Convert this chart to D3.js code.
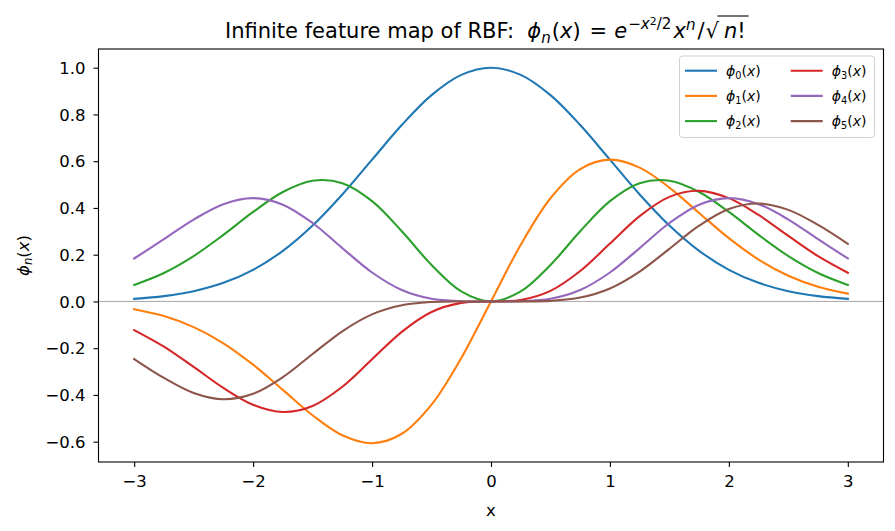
<!DOCTYPE html>
<html><head><meta charset="utf-8">
<script src="https://cdn.jsdelivr.net/npm/d3@7"></script>
<style>
body{margin:0;background:#fff;}
text{font-family:"DejaVu Sans",sans-serif;fill:#000;white-space:pre;}
</style></head>
<body>
<svg id="c" width="895" height="531"></svg>
<script>
const xs = [-3,-2.75,-2.5,-2.25,-2,-1.75,-1.5,-1.25,-1,-0.75,-0.5,-0.25,0,0.25,0.5,0.75,1,1.25,1.5,1.75,2,2.25,2.5,2.75,3];
const phi0 = [0.0111,0.0228,0.0439,0.0796,0.1353,0.2163,0.3247,0.4578,0.6065,0.7548,0.8825,0.9692,1.0000,0.9692,0.8825,0.7548,0.6065,0.4578,0.3247,0.2163,0.1353,0.0796,0.0439,0.0228,0.0111];
const phi1 = [-0.0333,-0.0627,-0.1098,-0.1790,-0.2707,-0.3785,-0.4870,-0.5723,-0.6065,-0.5661,-0.4413,-0.2423,0,0.2423,0.4413,0.5661,0.6065,0.5723,0.4870,0.3785,0.2707,0.1790,0.1098,0.0627,0.0333];
const phi2 = [0.0707,0.1219,0.1942,0.2848,0.3828,0.4683,0.5165,0.5058,0.4289,0.3002,0.1560,0.0428,0,0.0428,0.1560,0.3002,0.4289,0.5058,0.5165,0.4683,0.3828,0.2848,0.1942,0.1219,0.0707];
const phi3 = [-0.1225,-0.1935,-0.2803,-0.3700,-0.4420,-0.4732,-0.4473,-0.3651,-0.2476,-0.1300,-0.0450,-0.0062,0,0.0062,0.0450,0.1300,0.2476,0.3651,0.4473,0.4732,0.4420,0.3700,0.2803,0.1935,0.1225];
const phi4 = [0.1837,0.2661,0.3503,0.4162,0.4420,0.4140,0.3355,0.2282,0.1238,0.0488,0.0113,0.0008,0,0.0008,0.0113,0.0488,0.1238,0.2282,0.3355,0.4140,0.4420,0.4162,0.3503,0.2661,0.1837];
const phi5 = [-0.2465,-0.3272,-0.3917,-0.4188,-0.3953,-0.3240,-0.2251,-0.1276,-0.0554,-0.0164,-0.0025,-0.0001,0,0.0001,0.0025,0.0164,0.0554,0.1276,0.2251,0.3240,0.3953,0.4188,0.3917,0.3272,0.2465];
const seriesIdx = ["0","1","2","3","4","5"];
const seriesVals = [phi0,phi1,phi2,phi3,phi4,phi5];
const colors = ["#1f77b4","#ff7f0e","#2ca02c","#d62728","#9467bd","#8c564b"];
const xTicks = [-3,-2,-1,0,1,2,3];
const yTicks = [-0.6,-0.4,-0.2,0.0,0.2,0.4,0.6,0.8,1.0];

const svg = d3.select("#c");
const L=98.5,R=883.5,T=49,B=462;
const x = d3.scaleLinear().domain([-3.3,3.3]).range([L,R]);
const y = d3.scaleLinear().domain([-0.687,1.080]).range([B,T]);
const FS = 16.5;

svg.append("line").attr("x1",L).attr("x2",R).attr("y1",y(0)).attr("y2",y(0))
  .attr("stroke","#808080").attr("stroke-width",0.7);

const line = d3.line().x((d,i)=>x(xs[i])).y(d=>y(d)).curve(d3.curveCatmullRom.alpha(0.5));
const g = svg.append("g");
seriesVals.forEach((vals,k)=>{
  g.append("path").attr("d",line(vals)).attr("fill","none")
   .attr("stroke",colors[k]).attr("stroke-width",2.1).attr("stroke-linecap","square");
});

const xAxis = d3.axisBottom(x).tickValues(xTicks).tickSize(5).tickPadding(7)
  .tickFormat(d=>d3.format("d")(d).replace("-","\u2212"));
const gx = svg.append("g").attr("transform",`translate(0,${B})`).call(xAxis);
const yAxis = d3.axisLeft(y).tickValues(yTicks).tickSize(5).tickPadding(8)
  .tickFormat(d=>d3.format(".1f")(d).replace("-","\u2212"));
const gy = svg.append("g").attr("transform",`translate(${L},0)`).call(yAxis);
[gx,gy].forEach(a=>{
  a.attr("font-size",null).attr("font-family",null);
  a.select(".domain").remove();
  a.selectAll("line").attr("stroke","#000").attr("stroke-width",1.1);
  a.selectAll("text").attr("font-size",FS).attr("fill","#000");
});
gx.selectAll("text").attr("dy","0.76em");
gy.selectAll("text").attr("dy","0.35em");

svg.append("rect").attr("x",L).attr("y",T).attr("width",R-L).attr("height",B-T)
  .attr("fill","none").attr("stroke","#000").attr("stroke-width",1.1);

function rich(sel, parts, fs){
  let cur=0;
  parts.forEach(p=>{
    const off = p.off||0;
    const size = p.s? fs*p.s : fs;
    const t = sel.append("tspan").text(p.t).attr("font-size",size)
      .attr("dy", (cur-off)*fs);
    if(p.i) t.attr("font-style","italic");
    if(p.dx) t.attr("dx",p.dx);
    cur = off;
  });
  if(cur!==0) sel.append("tspan").text("\u200b").attr("dy",cur*fs);
}

// title
const TF = 21;
const title = svg.append("text").attr("x",225).attr("y",38.3).attr("font-size",TF);
const tparts = [
  {t:"Infinite feature map of RBF:  "},
  {t:"\u03d5",i:1},{t:"n",i:1,s:0.72,off:-0.2},
  {t:"(",off:0,dx:1},{t:"x",i:1},{t:")"},
  {t:"=",dx:9},
  {t:"e",i:1,dx:7},
  {t:"\u2212",s:0.72,off:0.42,dx:1},{t:"x",i:1,s:0.72,off:0.42},{t:"2",s:0.52,off:0.62},{t:"/2",s:0.72,off:0.42},
  {t:"x",i:1,off:0,dx:2},{t:"n",i:1,s:0.72,off:0.4},{t:"/",off:0,dx:2},{t:"\u221a",dx:1},{t:"n",i:1,dx:5},{t:"!"}
];
rich(title,tparts,TF);
const tn = title.node();
const full = tparts.map(p=>p.t).join("");
const iSq = full.indexOf("\u221a");
const iEnd = full.length-1;
try{
  const ex = tn.getExtentOfChar(iSq);
  const endp = tn.getEndPositionOfChar(iEnd);
  const yTop = 16;
  svg.append("line").attr("x1",ex.x+ex.width-1.5).attr("x2",endp.x+3)
    .attr("y1",yTop).attr("y2",yTop).attr("stroke","#000").attr("stroke-width",1.1);
}catch(e){}

// axis labels
svg.append("text").attr("x",491).attr("y",516).attr("text-anchor","middle").attr("font-size",FS).text("x");
const yl = svg.append("text").attr("transform","translate(29,255.5) rotate(-90)")
  .attr("text-anchor","middle").attr("font-size",FS);
rich(yl,[{t:"\u03d5",i:1},{t:"n",i:1,s:0.7,off:-0.2},{t:"(",off:0},{t:"x",i:1},{t:")"}],FS);

// legend
const lg = svg.append("g");
lg.append("rect").attr("x",679.5).attr("y",56).attr("width",195).attr("height",81.5)
  .attr("rx",3).attr("fill","#fff").attr("fill-opacity",0.8).attr("stroke","#d0d0d0").attr("stroke-width",1);
seriesIdx.forEach((n,k)=>{
  const col = Math.floor(k/3), row = k%3;
  const lx = col? 790.7:685, ly = 70.7 + row*25.2;
  lg.append("line").attr("x1",lx).attr("x2",lx+32).attr("y1",ly).attr("y2",ly)
    .attr("stroke",colors[k]).attr("stroke-width",2.1);
  const t = lg.append("text").attr("x",lx+41).attr("y",ly+5).attr("font-size",14);
  rich(t,[{t:"\u03d5",i:1},{t:n,s:0.7,off:-0.2},{t:"(",off:0},{t:"x",i:1},{t:")"}],14);
});
</script>
</body></html>
